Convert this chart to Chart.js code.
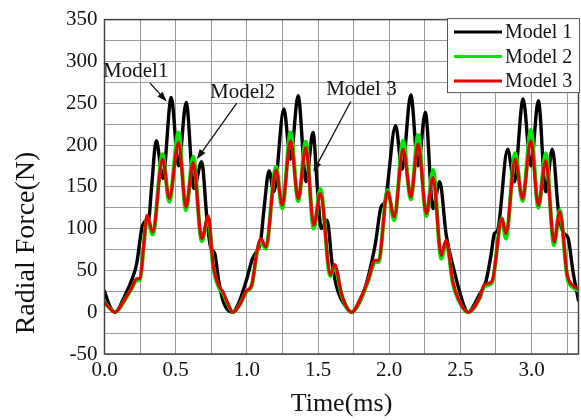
<!DOCTYPE html>
<html><head><meta charset="utf-8">
<script src="https://cdn.jsdelivr.net/npm/chart.js@4.4.0/dist/chart.umd.min.js"></script>
<style>html,body{margin:0;padding:0;background:#fff;}</style>
</head><body>
<canvas id="c" width="581" height="420"></canvas>
<script>
// ---------------- data ----------------
const seriesLabels = ['Model 1', 'Model 2', 'Model 3'];

const m1Time = [0, 0.035, 0.074, 0.144, 0.19, 0.226, 0.262, 0.288, 0.31, 0.33, 0.364, 0.41, 0.469, 0.52, 0.574, 0.628, 0.683, 0.718, 0.745, 0.775, 0.80, 0.834, 0.90,
  0.94, 0.993, 1.04, 1.074, 1.095, 1.121, 1.156, 1.19, 1.26, 1.307, 1.36, 1.416, 1.465, 1.495, 1.523, 1.563, 1.60, 1.64, 1.69, 1.737,
  1.796, 1.831, 1.877, 1.905, 1.943, 1.97, 2.045, 2.091, 2.152, 2.203, 2.254, 2.308, 2.355, 2.401, 2.459, 2.494, 2.525, 2.552,
  2.634, 2.68, 2.715, 2.739, 2.762, 2.832, 2.878, 2.941, 2.995, 3.048, 3.1, 3.146, 3.192, 3.225, 3.258, 3.29, 3.33];
const m1Force = [25, 8, 0, 20, 38, 58, 100, 109, 110, 148, 205, 160, 257, 175, 251, 148, 180, 115, 78, 70, 40, 13, 0,
  10, 36, 64, 74, 82, 124, 169, 144, 243, 183, 259, 156, 215, 150, 100, 110, 57, 25, 8, 0,
  13, 29, 60, 84, 126, 132, 223, 171, 260, 175, 239, 124, 156, 92, 48, 25, 8, 0,
  21, 37, 68, 94, 98, 195, 156, 255, 175, 253, 144, 195, 116, 95, 88, 50, 14];

const m3Time = [0, 0.03, 0.074, 0.144, 0.19, 0.226, 0.25, 0.275, 0.299, 0.339, 0.408, 0.455, 0.52, 0.572, 0.623, 0.683, 0.729, 0.763, 0.805, 0.83, 0.858, 0.902,
  0.95, 0.995, 1.035, 1.07, 1.099, 1.133, 1.205, 1.249, 1.307, 1.361, 1.414, 1.47, 1.517, 1.587, 1.617, 1.667, 1.737,
  1.80, 1.854, 1.90, 1.925, 1.989, 2.035, 2.098, 2.152, 2.203, 2.261, 2.308, 2.366, 2.40, 2.448, 2.483, 2.555,
  2.634, 2.669, 2.722, 2.792, 2.82, 2.885, 2.937, 2.995, 3.048, 3.1, 3.158, 3.198, 3.251, 3.29, 3.33];
const m3Force = [12, 6, 0, 16, 29, 40, 41, 80, 116, 96, 183, 136, 203, 126, 179, 88, 115, 57, 31, 25, 14, 0,
  9, 25, 33, 72, 88, 78, 170, 128, 205, 136, 197, 104, 142, 45, 57, 21, 0,
  17, 40, 62, 62, 144, 114, 195, 138, 201, 118, 161, 68, 86, 36, 17, 0,
  17, 33, 37, 112, 94, 183, 136, 205, 128, 181, 84, 120, 45, 32, 28];

const m2Time = m3Time.slice();
const m2Force = [12, 6, 0, 15, 28, 38, 39, 78, 113, 93, 189, 132, 215, 122, 186, 85, 113, 55, 29, 24, 13, 0,
  9, 24, 32, 70, 86, 76, 174, 124, 215, 133, 204, 100, 147, 43, 55, 20, 0,
  16, 38, 60, 60, 146, 110, 205, 135, 212, 115, 170, 64, 84, 34, 16, 0,
  16, 31, 35, 112, 88, 190, 133, 218, 125, 190, 80, 122, 42, 30, 26];

const xTickValues = [0, 0.5, 1, 1.5, 2, 2.5, 3];
const xTickLabels = ['0.0', '0.5', '1.0', '1.5', '2.0', '2.5', '3.0'];
const yTickValues = [-50, 0, 50, 100, 150, 200, 250, 300, 350];
const yTickLabels = ['-50', '0', '50', '100', '150', '200', '250', '300', '350'];

// ---------------- styling / layout ----------------
const SERIF = '"Liberation Serif", "Times New Roman", serif';
const colors = ['#000000', '#00e600', '#e80000'];
const widths = [3.4, 4.0, 3.1];

function pts(t, v) { return t.map((x, i) => ({ x: x, y: v[i] })); }

const notes = [
  { text: 'Model1', tx: -0.01, ty: 281, ax0: 0.32, ay0: 274, ax1: 0.437, ay1: 252 },
  { text: 'Model2', tx: 0.741, ty: 256, ax0: 0.929, ay0: 250, ax1: 0.648, ay1: 183 },
  { text: 'Model 3', tx: 1.557, ty: 260, ax0: 1.73, ay0: 252, ax1: 1.467, ay1: 168 }
];

function labelFor(values, labels, v) {
  for (let i = 0; i < values.length; i++) if (Math.abs(values[i] - v) < 1e-6) return labels[i];
  return '';
}

const framePlugin = {
  id: 'frame',
  afterDatasetsDraw(chart) {
    const { ctx, chartArea: a, scales } = chart;
    ctx.save();
    ctx.strokeStyle = '#444';
    ctx.lineWidth = 1.5;
    ctx.strokeRect(a.left, a.top, a.right - a.left, a.bottom - a.top);

    // annotations
    const xs = scales.x, ys = scales.y;
    ctx.fillStyle = '#111';
    ctx.strokeStyle = '#111';
    ctx.font = '21px ' + SERIF;
    ctx.textAlign = 'left';
    ctx.textBaseline = 'alphabetic';
    notes.forEach(n => {
      ctx.fillText(n.text, xs.getPixelForValue(n.tx), ys.getPixelForValue(n.ty));
      const x0 = xs.getPixelForValue(n.ax0), y0 = ys.getPixelForValue(n.ay0);
      const x1 = xs.getPixelForValue(n.ax1), y1 = ys.getPixelForValue(n.ay1);
      const ang = Math.atan2(y1 - y0, x1 - x0);
      const L = 10, W = 3.5;
      const bx = x1 - L * Math.cos(ang), by = y1 - L * Math.sin(ang);
      ctx.lineWidth = 1.3;
      ctx.beginPath(); ctx.moveTo(x0, y0); ctx.lineTo(bx, by); ctx.stroke();
      ctx.beginPath();
      ctx.moveTo(x1, y1);
      ctx.lineTo(bx + W * Math.sin(ang), by - W * Math.cos(ang));
      ctx.lineTo(bx - W * Math.sin(ang), by + W * Math.cos(ang));
      ctx.closePath(); ctx.fill();
    });

    // legend
    const bw = 133, bh = 75;
    const lx = a.right + 1.5 - bw, ly = a.top - 1.5;
    ctx.fillStyle = '#fff';
    ctx.fillRect(lx, ly, bw, bh);
    ctx.strokeStyle = '#555';
    ctx.lineWidth = 1;
    ctx.strokeRect(lx + 0.5, ly + 0.5, bw - 1, bh - 1);
    ctx.font = '20px ' + SERIF;
    ctx.textBaseline = 'middle';
    seriesLabels.forEach((lab, i) => {
      const yy = ly + 14 + i * 24.5;
      ctx.strokeStyle = colors[i];
      ctx.lineWidth = 3;
      ctx.beginPath(); ctx.moveTo(lx + 7, yy); ctx.lineTo(lx + 55, yy); ctx.stroke();
      ctx.fillStyle = '#111';
      ctx.fillText(lab, lx + 58, yy + 1);
    });

    // y title
    ctx.save();
    ctx.translate(27, 243);
    ctx.rotate(-Math.PI / 2);
    ctx.textAlign = 'center';
    ctx.textBaseline = 'middle';
    ctx.font = '28px ' + SERIF;
    ctx.fillStyle = '#111';
    ctx.fillText('Radial Force(N)', 0, 0);
    ctx.restore();
    ctx.restore();
  }
};

new Chart(document.getElementById('c'), {
  type: 'line',
  data: {
    datasets: [
      { label: seriesLabels[0], data: pts(m1Time, m1Force), borderColor: colors[0], borderWidth: widths[0], order: 3 },
      { label: seriesLabels[1], data: pts(m2Time, m2Force), borderColor: colors[1], borderWidth: widths[1], order: 2 },
      { label: seriesLabels[2], data: pts(m3Time, m3Force), borderColor: colors[2], borderWidth: widths[2], order: 1 }
    ].map(d => Object.assign(d, { pointRadius: 0, fill: false, cubicInterpolationMode: 'monotone', borderJoinStyle: 'round', borderCapStyle: 'round' }))
  },
  options: {
    responsive: false,
    animation: false,
    devicePixelRatio: 1,
    events: [],
    layout: { padding: { top: 15.6, right: 2.5, left: 0, bottom: 0 } },
    plugins: { legend: { display: false }, tooltip: { enabled: false } },
    scales: {
      x: {
        type: 'linear', min: 0, max: 3.33,
        afterFit(s) { s.height = 66; },
        ticks: {
          stepSize: 0.25, includeBounds: false, autoSkip: false, maxRotation: 0, padding: 4,
          color: '#111', font: { family: SERIF, size: 21 },
          callback: v => labelFor(xTickValues, xTickLabels, v)
        },
        grid: { color: '#999', lineWidth: 1, drawTicks: false },
        border: { display: false },
        title: { display: true, text: 'Time(ms)', color: '#111', font: { family: SERIF, size: 26 }, padding: { top: 8, bottom: 0 } }
      },
      y: {
        min: -50, max: 350,
        afterFit(s) { s.width = 104.5; },
        ticks: {
          stepSize: 25, includeBounds: false, autoSkip: false, padding: 7,
          color: '#111', font: { family: SERIF, size: 21 },
          callback: v => labelFor(yTickValues, yTickLabels, v)
        },
        grid: { color: '#999', lineWidth: 1, drawTicks: false },
        border: { display: false }
      }
    }
  },
  plugins: [framePlugin]
});
</script>
</body></html>
